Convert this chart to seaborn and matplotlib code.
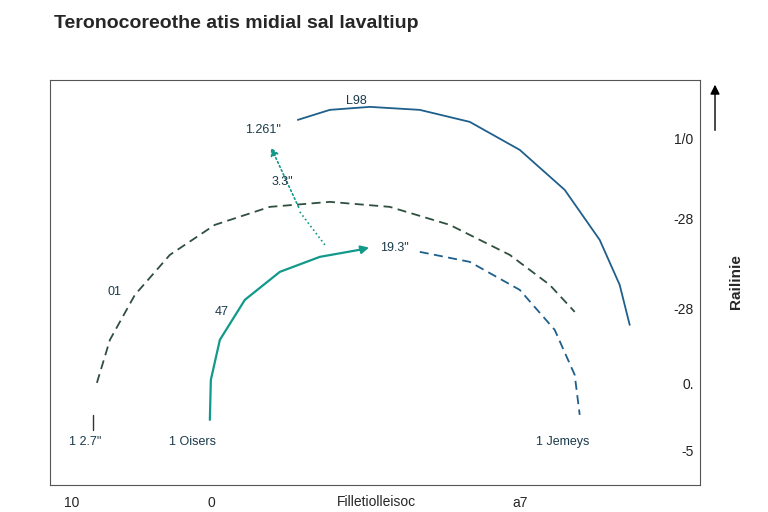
import matplotlib
matplotlib.use("Agg")
import matplotlib.pyplot as plt
import seaborn as sns

sns.set_theme(style="white")
plt.rcParams['font.family'] = ['Liberation Sans', 'DejaVu Sans']

# ── data (pixel-like units) ──
blue_x = [298, 330, 370, 420, 470, 520, 565, 600, 620, 630]
blue_y = [120, 110, 107, 110, 122, 150, 190, 240, 285, 325]
dash_x = [97, 110, 135, 170, 215, 270, 330, 390, 450, 510, 550, 575]
dash_y = [383, 340, 295, 255, 225, 207, 202, 207, 225, 255, 285, 312]
teal_x = [210, 211, 220, 245, 280, 320, 365]
teal_y = [420, 380, 340, 300, 272, 257, 249]
bdash_x = [420, 470, 520, 555, 575, 580]
bdash_y = [252, 262, 290, 330, 375, 415]

xtick_pos = [72, 212, 520]
xtick_lab = ["10", "0", "a7"]
ytick_pos = [140, 220, 310, 385, 452]
ytick_lab = ["1/0", "-28", "-28", "0.", "-5"]

labels = [("1.261\"", 263, 130), ("3.3\"", 283, 182), ("19.3\"", 395, 248),
          ("47", 222, 312), ("01", 115, 292), ("1 2.7\"", 85, 442),
          ("1 Oisers", 193, 442), ("1 Jemeys", 563, 442), ("L98", 357, 101)]

fig = plt.figure(figsize=(7.68, 5.12), dpi=100)
ax = fig.add_axes([0.065, 0.053, 0.846, 0.791])

kw = dict(sort=False, estimator=None, ax=ax)
sns.lineplot(x=blue_x, y=blue_y, color="#1f5f8b", lw=1.3, **kw)
sns.lineplot(x=dash_x, y=dash_y, color="#2f4f3f", lw=1.3, linestyle=(0, (5, 3)), **kw)
sns.lineplot(x=teal_x, y=teal_y, color="#12998a", lw=1.6, **kw)
sns.lineplot(x=bdash_x, y=bdash_y, color="#1f5f8b", lw=1.3, linestyle=(0, (5, 3)), **kw)

ax.annotate("", xy=(372, 247), xytext=(360, 250),
            arrowprops=dict(arrowstyle="-|>", color="#12998a", lw=1.5))
ax.annotate("", xy=(270, 145), xytext=(300, 210),
            arrowprops=dict(arrowstyle="-|>", color="#12998a", lw=1.2, linestyle=":"))
ax.plot([300, 325], [212, 245], color="#12998a", lw=1.2, linestyle=":")
ax.plot([93, 93], [415, 430], color="#333333", lw=1)

for t, x, y in labels:
    ax.text(x, y, t, fontsize=9, ha="center", va="center", color="#1a3a4a")

ax.set_xlim(50, 700)
ax.set_ylim(485, 80)
ax.set_xticks(xtick_pos)
ax.set_xticklabels(xtick_lab, fontsize=10)
ax.tick_params(axis="x", pad=2)
ax.set_yticks([])
for p, l in zip(ytick_pos, ytick_lab):
    ax.text(694, p, l, fontsize=10, ha="right", va="center", color="#222222")
fig.text(0.49, 0.02, "Filletiolleisoc", fontsize=10, ha="center", va="center")
for s in ax.spines.values():
    s.set_color("#555555")
    s.set_linewidth(0.8)

fig.text(0.958, 0.45, "Railinie", rotation=90, fontsize=11, fontweight="bold", ha="center", va="center")
fig.add_artist(matplotlib.patches.FancyArrowPatch((0.931, 0.74), (0.931, 0.84),
               transform=fig.transFigure, arrowstyle="-|>", mutation_scale=14, color="black", lw=1))
fig.text(0.07, 0.955, "Teronocoreothe atis midial sal lavaltiup", fontsize=14, fontweight="bold", va="center")

fig.savefig("out.png", dpi=100)
